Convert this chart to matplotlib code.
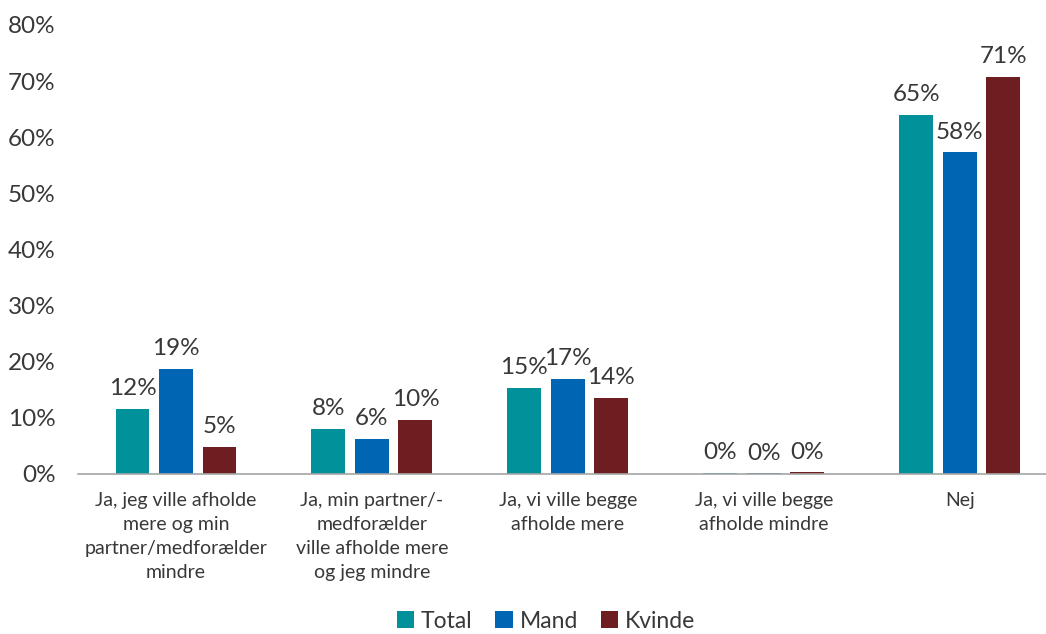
import matplotlib.pyplot as plt
import numpy as np

categories = [
    "Ja, jeg ville afholde\nmere og min\npartner/medforælder\nmindre",
    "Ja, min partner/-\nmedforælder\nville afholde mere\nog jeg mindre",
    "Ja, vi ville begge\nafholde mere",
    "Ja, vi ville begge\nafholde mindre",
    "Nej",
]
series = ["Total", "Mand", "Kvinde"]
total = [11.6, 8.0, 15.3, 0.2, 64.0]
mand = [18.7, 6.2, 16.9, 0.1, 57.3]
kvinde = [4.8, 9.7, 13.5, 0.3, 70.7]
total_labels = ["12%", "8%", "15%", "0%", "65%"]
mand_labels = ["19%", "6%", "17%", "0%", "58%"]
kvinde_labels = ["5%", "10%", "14%", "0%", "71%"]

colors = ["#00919b", "#0065b3", "#6e1e20"]
text_col = "#383838"

plt.rcParams['font.family'] = ['Lato', 'DejaVu Sans']

fig = plt.figure(figsize=(10.46, 6.34), dpi=100)
ax = fig.add_axes([78/1046, 0.2524, (1046-78)/1046, 0.9606-0.2524])

x = np.arange(len(categories))
w = 0.173
off = 0.222
for i, (vals, labs) in enumerate([(total, total_labels), (mand, mand_labels), (kvinde, kvinde_labels)]):
    pos = x + (i - 1) * off
    ax.bar(pos, vals, width=w, color=colors[i], label=series[i])
    for p, v, l in zip(pos, vals, labs):
        ax.annotate(l, (p, v), xytext=(0, 7), textcoords="offset points",
                    ha="center", va="bottom", fontsize=17.5, color=text_col)

ax.set_xlim(-0.5, 4.44)
ax.set_ylim(0, 80)
ax.set_yticks(range(0, 81, 10))
ax.set_yticklabels([f"{t}%" for t in range(0, 81, 10)])
ax.set_xticks(x)
ax.set_xticklabels(categories, linespacing=1.5)
ax.tick_params(axis="y", length=0, pad=16, labelsize=17.5, labelcolor=text_col)
ax.tick_params(axis="x", length=0, pad=13, labelsize=14, labelcolor=text_col)
for s in ["top", "right", "left"]:
    ax.spines[s].set_visible(False)
ax.spines["bottom"].set_color("#a6a6a6")
ax.spines["bottom"].set_linewidth(1.2)

fig.legend(loc="center", bbox_to_anchor=(546/1046, 13/634), ncol=3, frameon=False,
           fontsize=16.5, handlelength=0.75, handleheight=0.75, handletextpad=0.3,
           columnspacing=1.0, labelcolor=text_col)

fig.savefig("out.png", dpi=100)
